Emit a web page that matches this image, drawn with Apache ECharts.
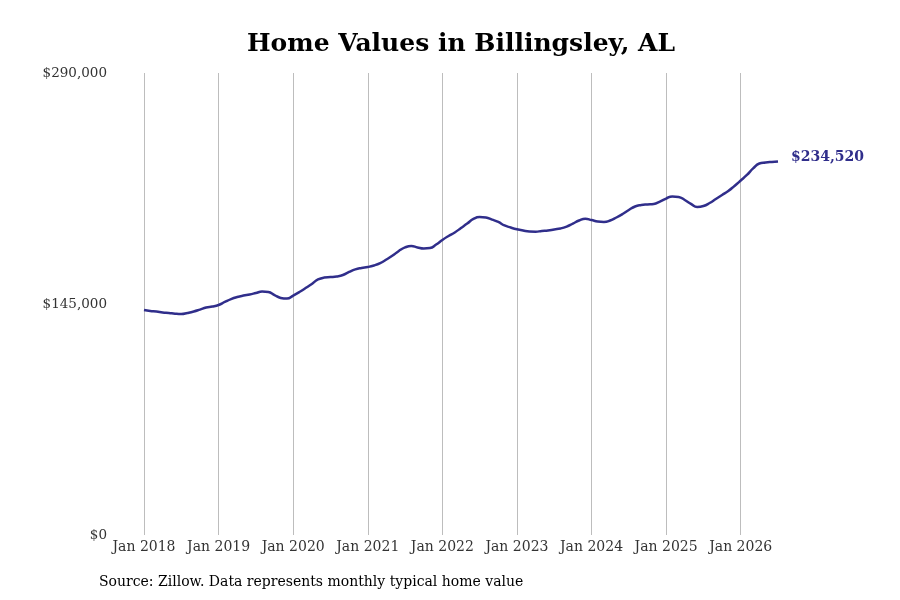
<!DOCTYPE html>
<html>
<head>
<meta charset="utf-8">
<script src="https://cdn.jsdelivr.net/npm/echarts@6/dist/echarts.min.js"></script>
<style>
  html, body { margin: 0; padding: 0; background: #fff; }
  #chart { width: 900px; height: 600px; }
</style>
</head>
<body>
<div id="chart"></div>
<script>
const startYear = 2018;
const monthNames = ["Jan", "Feb", "Mar", "Apr", "May", "Jun", "Jul", "Aug", "Sep", "Oct", "Nov", "Dec"];

// Typical home value per month, Jan 2018 .. Jul 2026
const homeValues = [
  141200, 140600, 140300, 139700, 139350, 138900, 138700, 139400, 140300, 141500, 142800, 143400,
  144400, 146300, 148100, 149400, 150300, 151000, 151900, 152800, 152500, 150600, 148800, 148400,
  150300, 152500, 155000, 157600, 160400, 161600, 161900, 162300, 163200, 165100, 166700, 167600,
  168200, 169200, 170700, 172900, 175400, 178300, 180500, 181400, 180500, 179800, 180100, 182300,
  185200, 187700, 189900, 192700, 195500, 198400, 199600, 199300, 198000, 196500, 194300, 193000,
  191900, 191100, 190500, 190400, 190800, 191100, 191800, 192400, 193600, 195500, 197400, 198500,
  197700, 196800, 196500, 197400, 199300, 201500, 204000, 206200, 207100, 207500, 207800, 209300,
  211200, 212500, 212200, 210300, 207800, 205900, 206500, 208400, 210900, 213400, 215900, 219100,
  222500, 226000, 230100, 233200, 233800, 234200, 234520
];

const months = homeValues.map((_, i) => {
  const y = startYear + Math.floor(i / 12);
  return monthNames[i % 12] + " " + y;
});

const yTicks = [0, 145000, 290000];

const lineColor = "#302e8b";
const serif = "DejaVu Serif";

function money(v) {
  return "$" + Math.round(v).toLocaleString("en-US");
}

const chart = echarts.init(document.getElementById("chart"), null, { renderer: "canvas" });

const isJan = (index) => index % 12 === 0;

chart.setOption({
  animation: false,
  title: {
    text: "Home Values in Billingsley, AL",
    left: 456,
    top: 27,
    textAlign: "center",
    textStyle: { fontFamily: serif, fontWeight: "bold", fontSize: 25, color: "#000" },
  },
  graphic: [
    {
      type: "text",
      left: 99,
      top: 575,
      style: {
        text: "Source: Zillow. Data represents monthly typical home value",
        font: "14px 'DejaVu Serif'",
        fill: "#000",
      },
    },
  ],
  grid: { left: 144, right: 122, top: 73, bottom: 65, containLabel: false },
  xAxis: {
    type: "category",
    data: months,
    boundaryGap: false,
    axisLine: { show: false },
    axisTick: { show: false },
    axisLabel: {
      interval: (index) => isJan(index),
      fontFamily: serif,
      fontSize: 14,
      color: "#333",
      margin: 5,
    },
    splitLine: {
      show: true,
      interval: (index) => isJan(index),
      lineStyle: { color: "#bdbdbd", width: 1 },
    },
  },
  yAxis: {
    type: "value",
    min: yTicks[0],
    max: yTicks[yTicks.length - 1],
    interval: yTicks[1] - yTicks[0],
    axisLine: { show: false },
    axisTick: { show: false },
    splitLine: { show: false },
    axisLabel: {
      formatter: (v) => money(v),
      fontFamily: serif,
      fontSize: 13.5,
      color: "#333",
      margin: 37,
    },
  },
  series: [
    {
      type: "line",
      data: homeValues,
      smooth: true,
      showSymbol: false,
      lineStyle: { color: lineColor, width: 2.5 },
      itemStyle: { color: lineColor },
      endLabel: {
        show: true,
        formatter: (p) => money(p.value),
        color: lineColor,
        fontFamily: serif,
        fontWeight: "bold",
        fontSize: 14,
        distance: 13,
        offset: [0, -4],
      },
    },
  ],
});
</script>
</body>
</html>
